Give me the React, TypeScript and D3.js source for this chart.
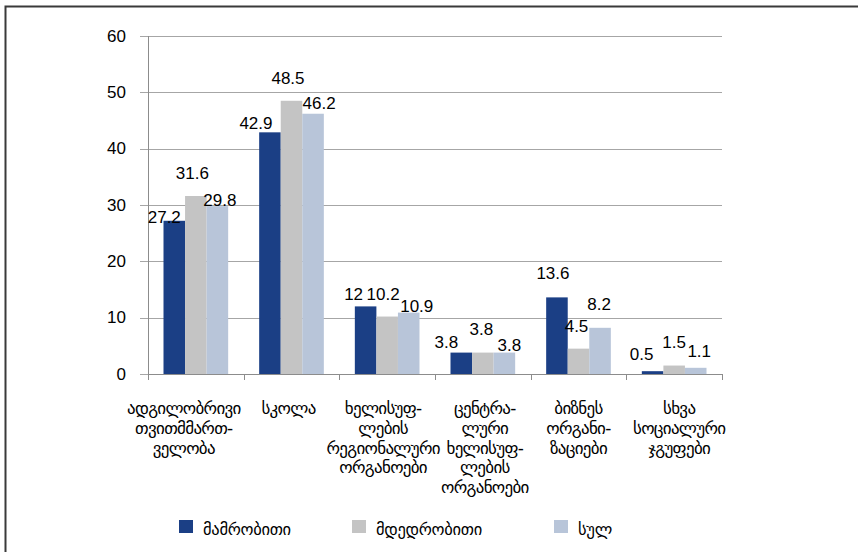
import React from "react";
import * as d3 from "d3";

const categories: string[][] = [
  ["ადგილობრივი", "თვითმმართ-", "ველობა"],
  ["სკოლა"],
  ["ხელისუფ-", "ლების", "რეგიონალური", "ორგანოები"],
  ["ცენტრა-", "ლური", "ხელისუფ-", "ლების", "ორგანოები"],
  ["ბიზნეს", "ორგანი-", "ზაციები"],
  ["სხვა", "სოციალური", "ჯგუფები"],
];
const seriesNames = ["მამრობითი", "მდედრობითი", "სულ"];
const maleValues = [27.2, 42.9, 12, 3.8, 13.6, 0.5];
const femaleValues = [31.6, 48.5, 10.2, 3.8, 4.5, 1.5];
const totalValues = [29.8, 46.2, 10.9, 3.8, 8.2, 1.1];
const yTicks = [0, 10, 20, 30, 40, 50, 60];

const seriesValues = [maleValues, femaleValues, totalValues];
const colors = ["#1b3f85", "#c4c4c4", "#b8c5d9"];
// label nudges [dx, rise above bar top] (Excel overlap placement)
const labelNudges: number[][][] = [
  [[-10, -2], [-14, 3], [-12, 6], [-15, 5], [-4, 18], [-11, 11]],
  [[-3.5, 17], [-3.5, 17], [-4, 16.6], [-1.5, 17.6], [-2, 16.7], [0, 17.6]],
  [[2.5, 0], [6, 4.4], [8, 0.6], [5, 1.6], [-1, 17.8], [3.5, 11]],
];
// horizontal nudges of the category labels (Excel layout)
const catLabelNudges = [-12, -3, -4, 2, 0, 5];

const W = 858;
const H = 552;
const left = 148;
const right = 722;
const top = 36;
const bottom = 374;
const numFont = "'Liberation Sans', Arial, sans-serif";
const geoFont = "'DejaVu Sans', 'Liberation Sans', sans-serif";

export default function App() {
  const catIdx = categories.map((_, i) => String(i));
  const x = d3.scaleBand<string>().domain(catIdx).range([left, right]).padding(0);
  const bw = x.bandwidth();
  const inner = d3
    .scaleBand<string>()
    .domain(seriesNames)
    .range([15.5, bw - 15.5])
    .padding(0);
  const y = d3.scaleLinear().domain([0, 60]).range([bottom, top]);

  return (
    <svg
      width={W}
      height={H}
      style={{ position: "absolute", left: 0, top: 0, background: "#fff" }}
    >
      <rect x={5.5} y={6.5} width={900} height={600} fill="#fff" stroke="#3a3a3a" strokeWidth={2} />
      {yTicks.map((t) => (
        <g key={t}>
          <line x1={left - 8} x2={right} y1={Math.round(y(t)) + 0.5} y2={Math.round(y(t)) + 0.5} stroke="#a6a6a6" strokeWidth={1} />
          <text
            x={126}
            y={y(t)}
            textAnchor="end"
            dominantBaseline="central"
            fontFamily={numFont}
            fontSize={17}
            fill="#000"
          >
            {t}
          </text>
        </g>
      ))}
      {seriesValues.map((vals, s) =>
        vals.map((v, c) => {
          const bx = (x(String(c)) as number) + (inner(seriesNames[s]) as number);
          return (
            <rect
              key={`b${s}-${c}`}
              x={bx}
              y={y(v)}
              width={inner.bandwidth()}
              height={bottom - y(v)}
              fill={colors[s]}
            />
          );
        })
      )}
      <line x1={left + 0.5} x2={left + 0.5} y1={top} y2={bottom} stroke="#8c8c8c" strokeWidth={1} />
      <line x1={left} x2={right} y1={bottom + 0.5} y2={bottom + 0.5} stroke="#8c8c8c" strokeWidth={1} />
      {d3.range(categories.length + 1).map((i) => {
        const tx = Math.round(left + i * bw) + 0.5;
        return <line key={`t${i}`} x1={tx} x2={tx} y1={bottom} y2={bottom + 6} stroke="#8c8c8c" strokeWidth={1} />;
      })}
      {seriesValues.map((vals, s) =>
        vals.map((v, c) => {
          const cx = (x(String(c)) as number) + (inner(seriesNames[s]) as number) + inner.bandwidth() / 2;
          const [dx, rise] = labelNudges[s][c];
          return (
            <text
              key={`l${s}-${c}`}
              x={cx + dx}
              y={y(v) - rise}
              textAnchor="middle"
              fontFamily={numFont}
              fontSize={17}
              fill="#000"
            >
              {String(v)}
            </text>
          );
        })
      )}
      {categories.map((lines, c) => {
        const cx = (x(String(c)) as number) + bw / 2 + catLabelNudges[c];
        return (
          <text
            key={`c${c}`}
            textAnchor="middle"
            fontFamily={geoFont}
            fontSize={17}
            letterSpacing={-0.7}
            fill="#000"
          >
            {lines.map((ln, k) => (
              <tspan key={k} x={cx} y={414 + k * 19.8}>
                {ln}
              </tspan>
            ))}
          </text>
        );
      })}
      {seriesNames.map((n, s) => {
        const lx = [179, 352, 554][s];
        return (
          <g key={`lg${s}`}>
            <rect x={lx} y={520} width={14} height={13} fill={colors[s]} />
            <text x={lx + 24} y={535} fontFamily={geoFont} fontSize={16.5} letterSpacing={-0.3} fill="#000">
              {n}
            </text>
          </g>
        );
      })}
    </svg>
  );
}
